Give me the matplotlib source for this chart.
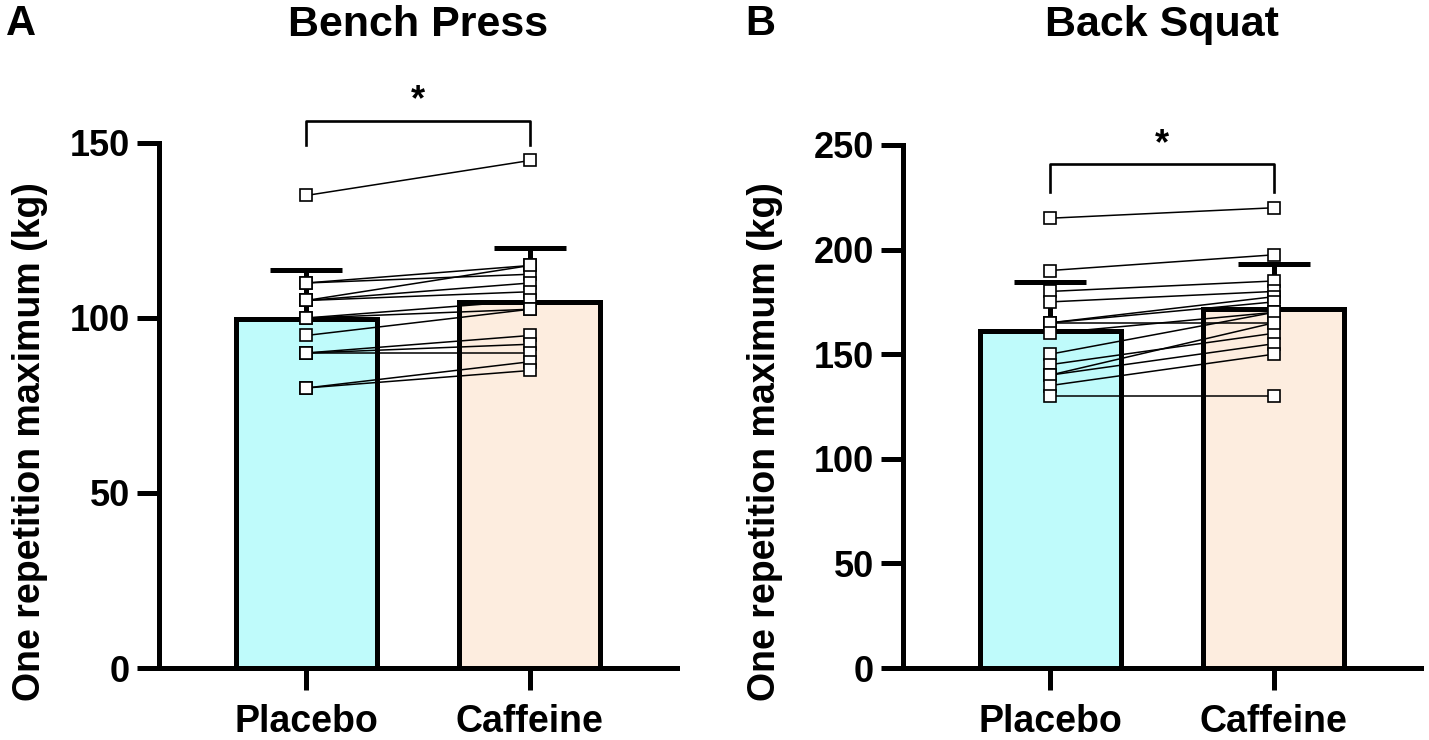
import matplotlib
matplotlib.use("Agg")
import matplotlib.pyplot as plt
import numpy as np

plt.rcParams['font.family'] = ['Liberation Sans', 'DejaVu Sans']
plt.rcParams['font.weight'] = 'bold'

conditions = ["Placebo", "Caffeine"]
barColors = ["#BFFBFB", "#FDEDDF"]

# paired 1RM values (kg), one entry per participant
benchPlacebo = [135, 110, 110, 105, 105, 105, 100, 100, 95, 90, 90, 90, 80, 80]
benchCaffeine = [145, 115, 112.5, 115, 110, 107.5, 105, 102.5, 102.5, 95, 92.5, 90, 87.5, 85]

squatPlacebo = [215, 190, 180, 175, 165, 165, 165, 160, 150, 145, 140, 140, 135, 130]
squatCaffeine = [220, 197.5, 185, 180, 177.5, 175, 165, 170, 170, 160, 165, 155, 150, 130]

benchTicks = [0, 50, 100, 150]
squatTicks = [0, 50, 100, 150, 200, 250]

W, H = 1429, 740
fig = plt.figure(figsize=(W / 100, H / 100), dpi=100)

LW = 3.6


def drawPanel(rect, placebo, caffeine, ticks, title, letter, letterX, labelX,
              bracketY, legY, starY):
    ax = fig.add_axes(rect)
    groups = [np.array(placebo), np.array(caffeine)]
    means = [g.mean() for g in groups]
    sds = [g.std(ddof=1) for g in groups]
    x = np.arange(len(conditions))

    ax.bar(x, means, width=0.63, color=barColors, edgecolor="black",
           linewidth=LW, zorder=1)
    ax.errorbar(x, means, yerr=[[0, 0], sds], fmt="none", ecolor="black",
                elinewidth=LW, capsize=26, capthick=LW, zorder=2)

    for p, c in zip(placebo, caffeine):
        ax.plot(x, [p, c], color="black", linewidth=1.1, marker="s",
                markersize=8.5, markerfacecolor="white",
                markeredgecolor="black", markeredgewidth=1.2,
                zorder=3, clip_on=False)

    # significance bracket
    ax.plot([0, 0, 1, 1], [legY, bracketY, bracketY, legY], color="black",
            linewidth=1.9, clip_on=False)
    ax.text(0.5, starY, "*", ha="center", va="center", fontsize=26,
            fontweight="bold")

    ax.set_xlim(-0.657, 1.657)
    ax.set_ylim(ticks[0], ticks[-1])
    ax.set_yticks(ticks)
    ax.set_xticks(x)
    ax.set_xticklabels(conditions)

    for side in ["top", "right"]:
        ax.spines[side].set_visible(False)
    for side in ["left", "bottom"]:
        ax.spines[side].set_linewidth(LW)
    ax.tick_params(axis="both", length=16, width=LW)
    ax.tick_params(axis="y", labelsize=26, pad=5)
    ax.tick_params(axis="x", labelsize=27, pad=10)
    for lab in ax.get_xticklabels() + ax.get_yticklabels():
        lab.set_fontweight("bold")

    cx = rect[0] + rect[2] / 2
    fig.text(cx, 1 - 25 / H, title, ha="center", va="center", fontsize=31,
             fontweight="bold")
    fig.text(letterX, 1 - 24 / H, letter, ha="left", va="center", fontsize=30,
             fontweight="bold")
    fig.text(labelX, 1 - 442 / H, "One repetition maximum (kg)", rotation=90,
             ha="center", va="center", fontsize=27, fontweight="bold")
    return ax


drawPanel([159 / W, 1 - 668 / H, 518 / W, (668 - 143) / H],
          benchPlacebo, benchCaffeine, benchTicks, "Bench Press", "A",
          6 / W, 30 / W, 156.3, 149.4, 162)
drawPanel([903 / W, 1 - 668 / H, 518 / W, (668 - 145) / H],
          squatPlacebo, squatCaffeine, squatTicks, "Back Squat", "B",
          745 / W, 765 / W, 241, 227.5, 250)

fig.savefig("out.png", dpi=100)
